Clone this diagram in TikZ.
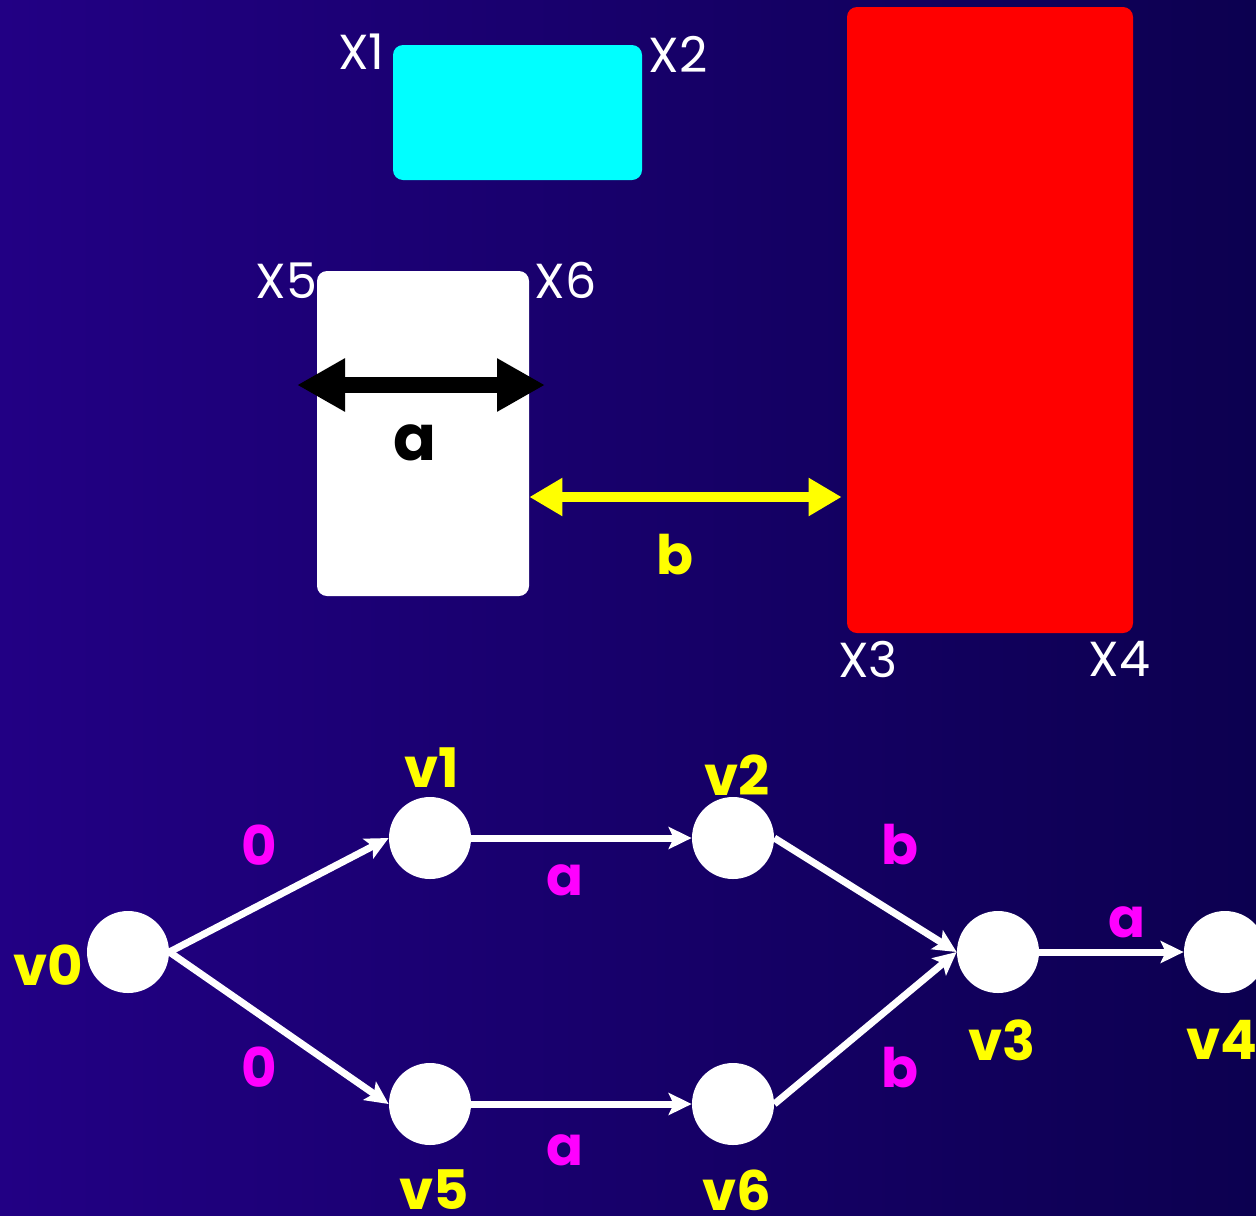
\documentclass[tikz,border=0pt]{standalone}
\usepackage{fontspec}
\setmainfont{Poppins}
\usetikzlibrary{arrows.meta,positioning}
\definecolor{bgleft}{RGB}{34,0,132}
\definecolor{bgright}{RGB}{12,0,80}
\definecolor{boxcyan}{RGB}{0,255,255}
\definecolor{boxred}{RGB}{255,0,0}
\definecolor{vyellow}{RGB}{255,255,0}
\definecolor{emag}{RGB}{255,0,255}
\tikzset{
  box/.style={rounded corners=0.2cm, inner sep=0pt},
  xlab/.style={text=white, font=\fontsize{28}{30}\selectfont, inner sep=0pt},
  vert/.style={circle, fill=white, minimum size=1.64cm, inner sep=0pt},
  vlab/.style={text=vyellow, font=\fontsize{31}{33}\selectfont\bfseries},
  elab/.style={text=emag, font=\fontsize{31}{33}\selectfont\bfseries},
  edge/.style={white, line width=0.14cm, -{Stealth[length=0.46cm,width=0.44cm,inset=0.1cm]}}
}
\begin{document}
\begin{tikzpicture}[line join=round]
  \def\W{25.12} \def\H{-24.3}
  \useasboundingbox (0,0) rectangle (\W,\H);
  \shade[left color=bgleft, right color=bgright] (0,0) rectangle (\W,\H);
  \clip (0,0) rectangle (\W,\H);
  % the three boxes
  \node[box, fill=boxcyan, minimum width=4.98cm, minimum height=2.7cm] (cyanbox) at (10.35,-2.25) {};
  \node[box, fill=boxred, minimum width=5.72cm, minimum height=12.52cm] (redbox) at (19.8,-6.4) {};
  \node[box, fill=white, minimum width=4.24cm, minimum height=6.5cm] (whitebox) at (8.46,-8.67) {};
  \node[xlab, anchor=east] at ([xshift=-0.16cm,yshift=-0.14cm]cyanbox.north west) {X1};
  \node[xlab, anchor=west] at ([xshift=0.12cm,yshift=-0.2cm]cyanbox.north east) {X2};
  \node[xlab, anchor=north west] at ([xshift=-0.18cm,yshift=-0.16cm]redbox.south west) {X3};
  \node[xlab, anchor=north east] at ([xshift=0.34cm,yshift=-0.16cm]redbox.south east) {X4};
  \node[xlab, anchor=east] at ([xshift=0.02cm,yshift=-0.2cm]whitebox.north west) {X5};
  \node[xlab, anchor=west] at ([xshift=0.1cm,yshift=-0.2cm]whitebox.north east) {X6};
  % widths
  \coordinate (aleft) at (5.94,-7.7);
  \coordinate (aright) at (10.9,-7.7);
  \draw[line width=0.32cm, {Triangle[length=0.96cm,width=1cm]}-{Triangle[length=0.96cm,width=1cm]}] (aleft) -- (aright);
  \node[font=\fontsize{36}{38}\selectfont\bfseries] at (8.3,-8.85) {a};
  \coordinate (bleft) at (whitebox.east |- 0,-9.94);
  \coordinate (bright) at (redbox.west |- 0,-9.94);
  \draw[vyellow, line width=0.2cm, {Triangle[length=0.66cm,width=0.72cm]}-{Triangle[length=0.66cm,width=0.72cm]}] (bleft) -- ([xshift=-0.1cm]bright);
  \node[vlab] at (13.5,-11.1) {b};
  % the graph
  \node[vert] (v0) at (2.56,-19.04) {};
  \node[vert] (v1) at (8.6,-16.76) {};
  \node[vert] (v2) at (14.66,-16.76) {};
  \node[vert] (v3) at (19.96,-19.04) {};
  \node[vert] (v4) at (24.5,-19.04) {};
  \node[vert] (v5) at (8.6,-22.08) {};
  \node[vert] (v6) at (14.66,-22.08) {};
  \node[vlab] at (0.96,-19.3) {v0};
  \node[vlab] at (8.64,-15.36) {v1};
  \node[vlab] at (14.74,-15.5) {v2};
  \node[vlab] at (20.04,-20.8) {v3};
  \node[vlab] at (24.44,-20.8) {v4};
  \node[vlab] at (8.68,-23.8) {v5};
  \node[vlab] at (14.74,-23.8) {v6};
  \draw[edge] (v0.east) -- (v1.west);
  \draw[edge] (v0.east) -- (v5.west);
  \draw[edge] (v1.east) -- (v2.west);
  \draw[edge] (v5.east) -- (v6.west);
  \draw[edge] (v2.east) -- (v3.west);
  \draw[edge] (v6.east) -- (v3.west);
  \draw[edge] (v3.east) -- (v4.west);
  \node[elab] at (5.18,-16.9) {0};
  \node[elab] at (5.18,-21.34) {0};
  \node[elab] at (11.3,-17.6) {a};
  \node[elab] at (11.3,-23.0) {a};
  \node[elab] at (18,-16.9) {b};
  \node[elab] at (18,-21.36) {b};
  \node[elab] at (22.54,-18.44) {a};
\end{tikzpicture}
\end{document}
